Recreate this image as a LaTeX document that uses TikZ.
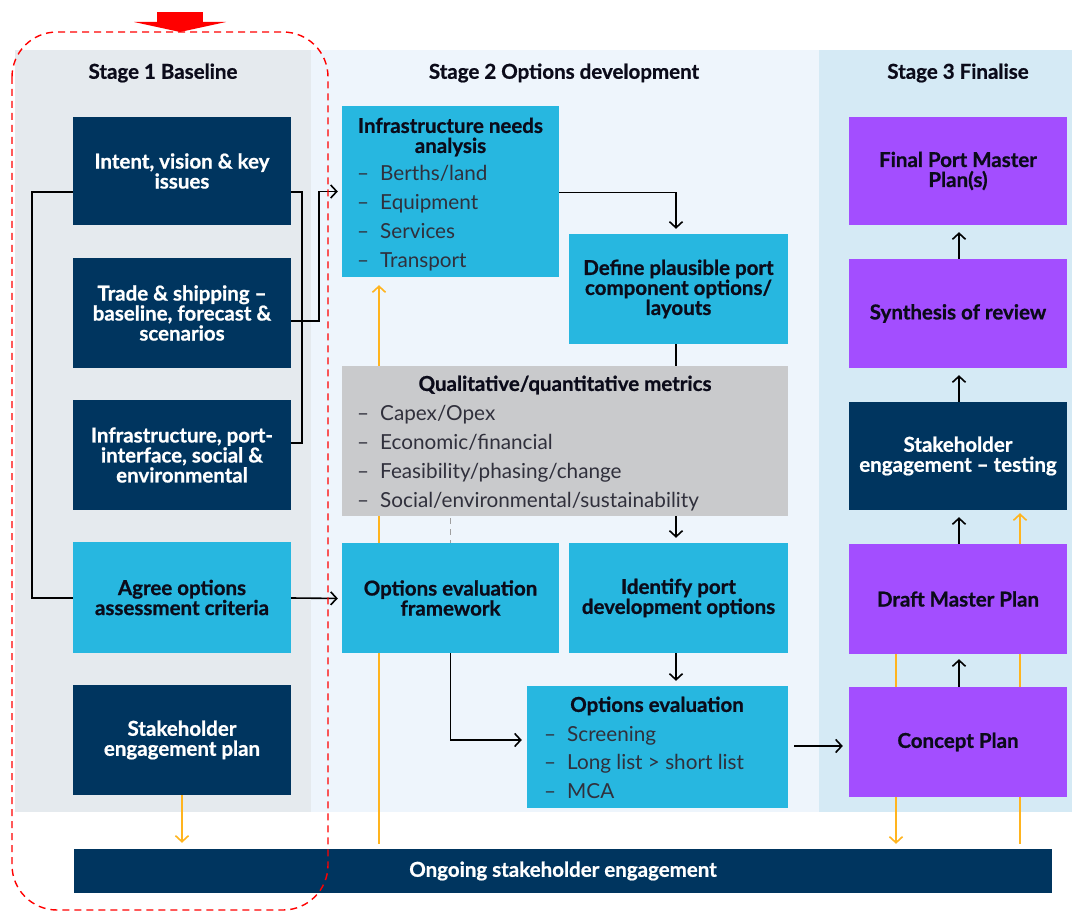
\documentclass[tikz,border=0pt]{standalone}
\usepackage{fontspec}
\setmainfont{Lato}[BoldFeatures={FakeBold=0.8}]
\usetikzlibrary{arrows.meta}
\definecolor{navy}{HTML}{00355F}
\definecolor{cyanb}{HTML}{27B7E0}
\definecolor{purp}{HTML}{A34EFF}
\definecolor{greym}{HTML}{C9CACC}
\definecolor{bgone}{HTML}{E5EAEE}
\definecolor{bgtwo}{HTML}{EEF5FC}
\definecolor{bgthree}{HTML}{D5EAF5}
\definecolor{orng}{HTML}{FFB41E}
\definecolor{ink}{HTML}{0B0B1A}
\begin{document}
\begin{tikzpicture}[x=1pt,y=-1pt,
  box/.style={rectangle, inner sep=0pt, minimum width=218pt, minimum height=110pt, align=center,
    font=\fontsize{20.5}{20}\selectfont\bfseries},
  navybox/.style={box, fill=navy, text=white},
  cyanbox/.style={box, fill=cyanb, text=ink},
  purpbox/.style={box, fill=purp, text=ink},
  greybox/.style={box, fill=greym},
  titletext/.style={inner sep=0pt, align=center, text=ink, font=\fontsize{20.5}{20}\selectfont\bfseries},
  stagetitle/.style={inner sep=0pt, text=ink, font=\fontsize{20.5}{20}\selectfont\bfseries},
  itemtext/.style={inner sep=0pt, anchor=base west, text=ink!85, font=\fontsize{20.7}{20}\selectfont},
  conn/.style={draw=black, line width=1.6pt},
  arr/.style={conn, -{Straight Barb[length=6pt,width=13pt]}},
  orline/.style={draw=orng, line width=1.6pt},
  orarr/.style={orline, -{Straight Barb[length=6pt,width=13pt]}}
]
\useasboundingbox (0,0) rectangle (1072,912);
% backgrounds
\fill[bgone] (15,50) rectangle (311,812);
\fill[bgtwo] (311,50) rectangle (819,812);
\fill[bgthree] (819,50) rectangle (1072,812);

\node[stagetitle] (s1) at (163,73) {Stage 1 Baseline};
\node[stagetitle] (s2) at (564,73) {Stage 2 Options development};
\node[stagetitle] (s3) at (958,73) {Stage 3 Finalise};

% coordinates for free line positions
\coordinate (oa) at (379,0);
\coordinate (ol) at (896,0);
\coordinate (orr) at (1020,0);

% ongoing bar
\node[navybox, minimum width=978pt, minimum height=44pt, text=white] (ongoing) at (563,871) {Ongoing stakeholder engagement};

% nodes whose position is needed for lines behind boxes
\node[cyanbox, minimum width=217pt, minimum height=171pt] (ina) at (450.5,191.5) {};
\node[cyanbox, minimum width=219pt] (define) at (678.5,289) {Define plausible port\\component options/\\layouts};
\node[cyanbox, minimum width=219pt] (identify) at (678.5,598) {Identify port\\development options};
\node[cyanbox, minimum width=261pt, minimum height=122pt] (opteval) at (657.5,747) {};
\node[purpbox] (draft) at (958,599) {Draft Master Plan};
\node[navybox, minimum height=108pt] (testing) at (958,456) {Stakeholder\\engagement -- testing};

% lines passing behind boxes
\draw[orarr, shorten <=5pt, shorten >=8pt] (ongoing.north -| oa) -- (ina.south -| oa);
\draw[arr, shorten >=5pt] ([xshift=-2.5pt]define.south) -- ([xshift=-2.5pt]identify.north);
\draw[orarr, shorten >=5pt] (draft.south -| ol) -- (ongoing.north -| ol);
\draw[orarr, shorten <=5pt, shorten >=3pt] (ongoing.north -| orr) -- (testing.south -| orr);

% stage 1 boxes
\node[navybox, minimum height=108pt] (intent) at (182,171) {Intent, vision \& key\\issues};
\node[navybox] (trade) at (182,313) {Trade \& shipping --\\baseline, forecast \&\\scenarios};
\node[navybox] (infra) at (182,455) {Infrastructure, port-\\interface, social \&\\environmental};
\node[cyanbox, minimum height=111pt] (agree) at (182,597.5) {Agree options\\assessment criteria};
\node[navybox] (plan) at (182,740) {Stakeholder\\engagement plan};

% stage 2 boxes
\node[greybox, minimum width=446pt, minimum height=150pt] (metrics) at (565,441) {};
\node[cyanbox, minimum width=217pt] (frame) at (450.5,598) {Options evaluation\\framework};
\node[cyanbox, minimum width=217pt, minimum height=171pt] (ina2) at (450.5,191.5) {};
\node[cyanbox, minimum width=261pt, minimum height=122pt] (opteval2) at (657.5,747) {};

% stage 3 boxes
\node[purpbox, minimum height=108pt] (final) at (958,171) {Final Port Master\\Plan(s)};
\node[purpbox, minimum height=109pt] (synth) at (958,313.5) {Synthesis of review};
\node[purpbox] (concept) at (958,742) {Concept Plan};
\node[purpbox] (draft2) at (958,599) {Draft Master Plan};
\node[navybox, minimum height=108pt] (testing2) at (958,456) {Stakeholder\\engagement -- testing};

% texts inside list boxes
\node[titletext] (inatitle) at (450.5,137) {Infrastructure needs\\analysis};
\node[itemtext] at (357,181) {–}; \node[itemtext] at (380,181) {Berths/land};
\node[itemtext] at (357,210) {–}; \node[itemtext] at (380,210) {Equipment};
\node[itemtext] at (357,239) {–}; \node[itemtext] at (380,239) {Services};
\node[itemtext] at (357,268) {–}; \node[itemtext] at (380,268) {Transport};

\node[titletext] (mtitle) at (565,385) {Qualitative/quantitative metrics};
\node[itemtext] at (357,420) {–}; \node[itemtext] at (380,420) {Capex/Opex};
\node[itemtext] at (357,449) {–}; \node[itemtext] at (380,449) {Economic/financial};
\node[itemtext] at (357,478) {–}; \node[itemtext] at (380,478) {Feasibility/phasing/change};
\node[itemtext] at (357,507) {–}; \node[itemtext] at (380,507) {Social/environmental/sustainability};

\node[titletext] (otitle) at (657,706) {Options evaluation};
\node[itemtext] at (544,741) {–}; \node[itemtext] at (567,741) {Screening};
\node[itemtext] at (544,769) {–}; \node[itemtext] at (567,769) {Long list > short list};
\node[itemtext] at (544,798) {–}; \node[itemtext] at (567,798) {MCA};

% stage 1 connectors
\draw[conn] ([yshift=-21pt]intent.west) -- ++(-41,0) |- ([yshift=-0.5pt]agree.west);
\draw[conn] ([yshift=-21pt]intent.east) -- ++(11,0) |- ([yshift=12pt]infra.east);
\draw[arr, shorten >=4pt] ([yshift=-8pt]trade.east) -- ++(28,0) |- (ina2.west);
\draw[orarr, shorten >=6pt] (plan.south) -- (plan.south |- ongoing.north);
\draw[arr, shorten >=4pt] ([yshift=-0.5pt]agree.east) -- ([yshift=-0.5pt]frame.west);

% stage 2 connectors
\draw[arr, shorten >=5pt] ([yshift=-1pt]ina2.east) -| ([xshift=-2.5pt]define.north);
\draw[arr, shorten >=5pt] ([xshift=-2.5pt]identify.south) -- ([xshift=-2.5pt]identify.south |- opteval2.north);
\draw[gray!75, line width=1.8pt, dash pattern=on 6pt off 5pt] ([yshift=-2pt]metrics.south -| frame.south) -- (frame.north);
\draw[arr, shorten >=5pt] (frame.south) |- ([yshift=7pt]opteval2.west);
\draw[arr, shorten <=6pt, shorten >=6pt] ([yshift=-4pt]concept.west -| opteval2.east) -- ([yshift=-4pt]concept.west);

% stage 3 connectors
\draw[arr, shorten >=5pt] ([xshift=1pt]concept.north) -- ([xshift=1pt]draft2.south);
\draw[arr, shorten >=7pt] ([xshift=1pt]draft2.north) -- ([xshift=1pt]testing2.south);
\draw[arr, shorten >=7pt] ([xshift=1pt]testing2.north) -- ([xshift=1pt]synth.south);
\draw[arr, shorten >=7pt] ([xshift=1pt]synth.north) -- ([xshift=1pt]final.south);

% highlight
\fill[red] (157,12) rectangle (203,23);
\fill[red] (134,22) -- (226,22) -- (180,32) -- cycle;
\draw[red, line width=1.4pt, dash pattern=on 7pt off 5pt, rounded corners=45pt] (12,32) rectangle (328,910);
\end{tikzpicture}
\end{document}
